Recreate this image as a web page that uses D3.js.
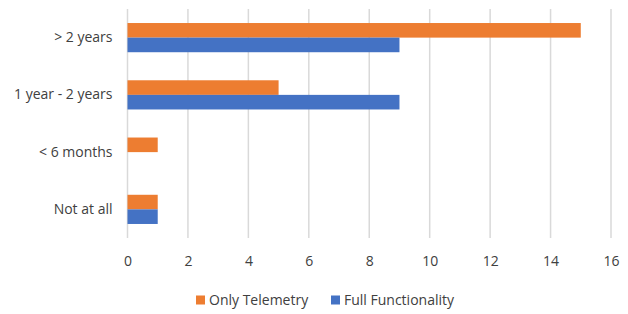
<!DOCTYPE html>
<html>
<head>
<meta charset="utf-8">
<script src="https://cdn.jsdelivr.net/npm/d3@7"></script>
<style>
  body { margin: 0; background: #fff; }
  text { font-family: "Open Sans", "Liberation Sans", sans-serif; fill: #404040; }
</style>
</head>
<body>
<svg id="chart" width="628" height="314"></svg>
<script>
// Data
const categories = ["> 2 years", "1 year - 2 years", "< 6 months", "Not at all"];
const seriesNames = ["Only Telemetry", "Full Functionality"];
const onlyTelemetry = [15, 5, 1, 1];
const fullFunctionality = [9, 9, 0, 1];
const xTicks = [0, 2, 4, 6, 8, 10, 12, 14, 16];
const colors = ["#ED7D31", "#4472C4"];

const svg = d3.select("#chart");
const margin = { top: 9, right: 17, bottom: 76, left: 127.5 };
const width = 628 - margin.left - margin.right;
const height = 314 - margin.top - margin.bottom;

const g = svg.append("g").attr("transform", `translate(${margin.left},${margin.top})`);

const x = d3.scaleLinear().domain([0, 16]).range([0, width]);
const y = d3.scaleBand().domain(categories).range([0, height]).paddingInner(0.49).paddingOuter(0.245);
const ySub = d3.scaleBand().domain(seriesNames).range([0, y.bandwidth()]);

// Gridlines
g.append("g")
  .selectAll("line")
  .data(xTicks)
  .join("line")
  .attr("x1", d => x(d))
  .attr("x2", d => x(d))
  .attr("y1", 0)
  .attr("y2", height)
  .attr("stroke", "#D9D9D9")
  .attr("stroke-width", 1.5);

// Bars
const rows = categories.map((c, i) => ({
  cat: c,
  values: [onlyTelemetry[i], fullFunctionality[i]]
}));

const groups = g.append("g")
  .selectAll("g")
  .data(rows)
  .join("g")
  .attr("transform", d => `translate(0,${y(d.cat)})`);

groups.selectAll("rect")
  .data(d => d.values.map((v, j) => ({ name: seriesNames[j], value: v, j })))
  .join("rect")
  .attr("x", x(0))
  .attr("y", d => ySub(d.name))
  .attr("width", d => x(d.value) - x(0))
  .attr("height", ySub.bandwidth())
  .attr("fill", d => colors[d.j]);

// Axis tick labels
const xAxis = d3.axisBottom(x).tickValues(xTicks).tickSize(0).tickPadding(0);
const ax = g.append("g")
  .attr("transform", `translate(0,${height + 18})`)
  .call(xAxis);
ax.select(".domain").remove();
ax.selectAll("text")
  .attr("font-size", 14)
  .attr("font-family", "'Open Sans', 'Liberation Sans', sans-serif")
  .attr("fill", "#404040");

const yAxis = d3.axisLeft(y).tickSize(0).tickPadding(15);
const ay = g.append("g").call(yAxis);
ay.select(".domain").remove();
ay.selectAll("text")
  .attr("font-size", 14)
  .attr("font-family", "'Open Sans', 'Liberation Sans', sans-serif")
  .attr("fill", "#404040");

// Legend
const legendX = [196, 331];
const legend = svg.append("g")
  .selectAll("g")
  .data(seriesNames)
  .join("g")
  .attr("transform", (d, i) => `translate(${legendX[i]},300)`);

legend.append("rect")
  .attr("x", 0)
  .attr("y", -4.5)
  .attr("width", 9)
  .attr("height", 9)
  .attr("fill", (d, i) => colors[i]);

legend.append("text")
  .attr("x", 13)
  .attr("y", 0)
  .attr("dy", "0.35em")
  .attr("font-size", 14)
  .text(d => d);
</script>
</body>
</html>
